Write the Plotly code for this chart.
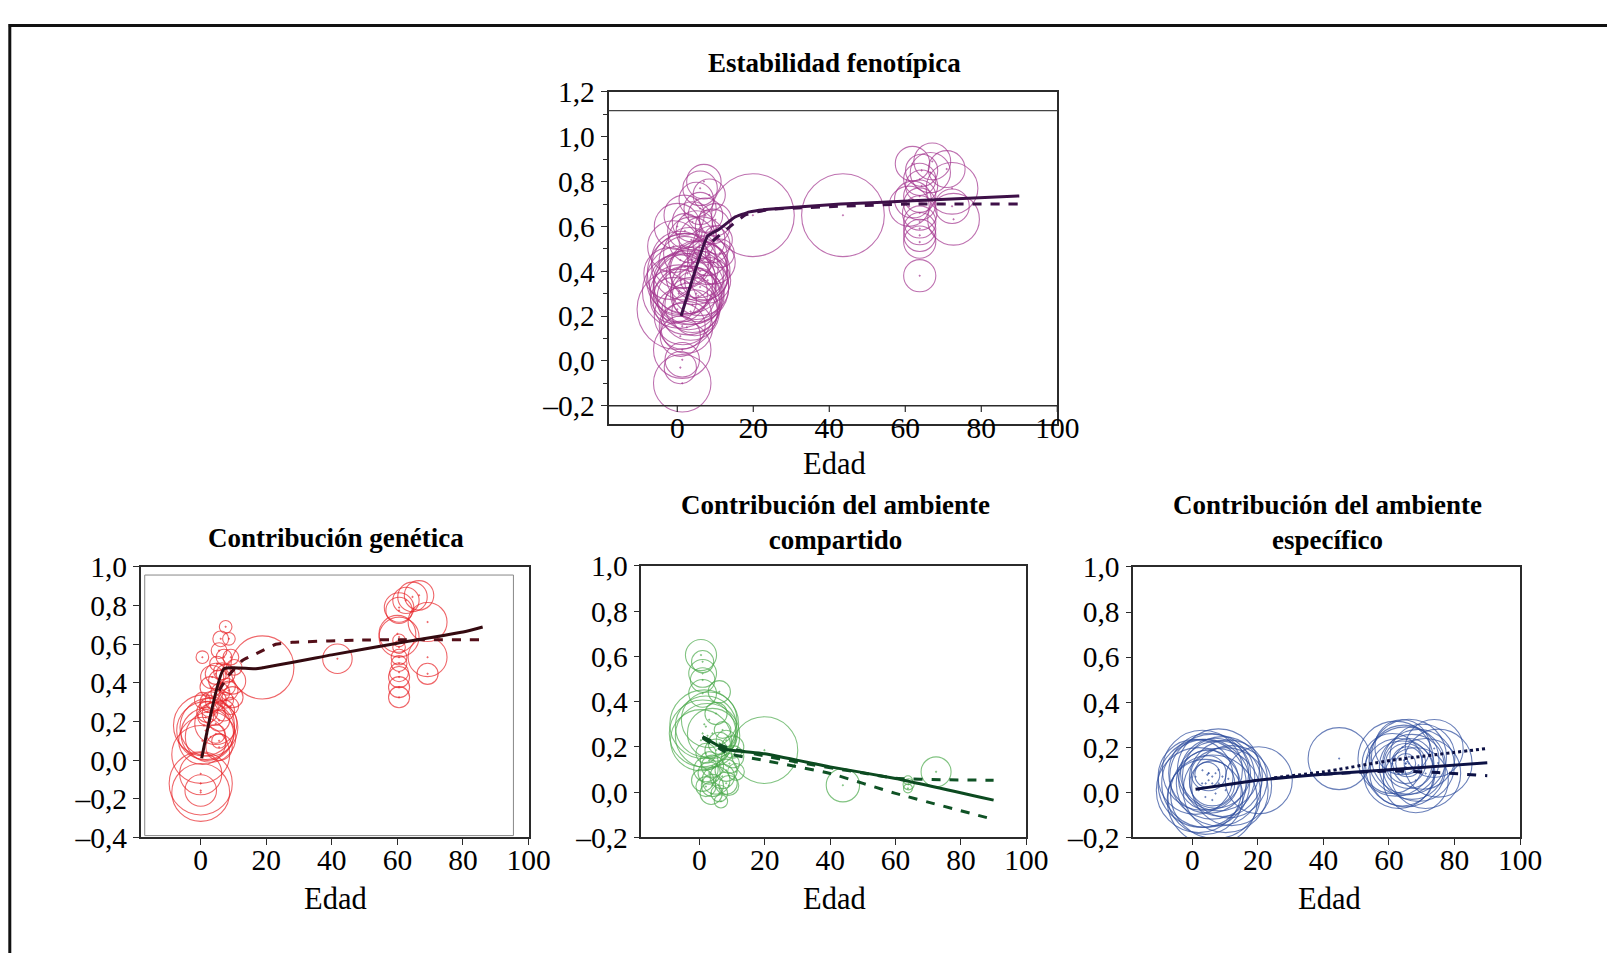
import plotly.graph_objects as go

# ---------------- DATA ----------------
# Panel 1: Estabilidad fenotípica (edad, valor, peso del estudio)
est_edad = [1.3, 1.3, 0, 0.8, 1.3, 2.7, 3.7, 2.7, 5.5, -1, 0, 1.8, 6, 7, 8.4, 5, 7.4, 9.3, 10.7, 11.2,
            6.5, 7.9, 5.5, 4.6, 1.3, 0.8, 3.7, -2, 2, 4.6, 0.8, 3.2, 0.4, -1, 4, 2, 6, 9, 8, 10, 5, 3, 1,
            2, 6, 8, 1.5, 2.5, 3, 1, 4, 6, 2, 5, 7, 0.5, 3.5, 9.5,
            19.9, 43.6,
            63.8, 63.8, 63.8, 63.8, 63.8, 63.8, 63.8, 64.3, 63.8, 64.3, 61.9, 66.6, 67.1, 70.9, 61, 72.7,
            72.3, 72.3, 63.8, 62]
est_valor = [-0.10, 0.05, 0.23, 0.11, 0.155, 0.39, 0.33, 0.27, 0.41, 0.51, 0.60, 0.65, 0.77, 0.80, 0.74,
             0.72, 0.65, 0.60, 0.54, 0.48, 0.54, 0.47, 0.29, 0.215, 0.005, -0.03, 0.54, 0.39, 0.35, 0.38,
             0.45, 0.48, 0.30, 0.27, 0.62, 0.58, 0.68, 0.52, 0.43, 0.63, 0.58, 0.28, 0.36, 0.44, 0.33,
             0.36, 0.20, 0.15, 0.32, 0.34, 0.25, 0.40, 0.42, 0.30, 0.38, 0.31, 0.22, 0.44,
             0.65, 0.65,
             0.38, 0.53, 0.56, 0.59, 0.62, 0.70, 0.735, 0.78, 0.81, 0.85, 0.88, 0.84, 0.89, 0.856, 0.69,
             0.632, 0.69, 0.77, 0.66, 0.72]
est_peso = [50, 50, 70, 35, 40, 70, 65, 60, 50, 45, 40, 35, 30, 30, 28, 30, 30, 30, 25, 25, 40, 35, 45,
            40, 30, 28, 40, 45, 55, 50, 50, 45, 50, 40, 35, 30, 28, 32, 35, 28, 35, 55, 60, 45, 50, 40,
            50, 45, 62, 55, 48, 52, 58, 45, 42, 64, 50, 38,
            72, 72,
            28, 28, 28, 28, 28, 28, 28, 28, 28, 28, 30, 35, 32, 32, 35, 45, 30, 45, 30, 32]
est_linea_edad = [1, 8, 11, 15, 19, 24, 43, 62, 90]
est_linea_solida = [0.20, 0.557, 0.587, 0.64, 0.665, 0.677, 0.70, 0.714, 0.736]
est_disc_edad = [9.3, 13, 17.8, 24, 43, 62, 90]
est_linea_disc = [0.535, 0.587, 0.65, 0.675, 0.69, 0.70, 0.70]

# Panel 2: Contribución genética
gen_edad = [0, 0, 0, 0, 0, 1.5, 2.5, 2, 0.5, 4.6, 5.6,
            0.5, 7.6, 6.1, 8.6, 5.6, 7.1, 9.2, 10.2, 4.6, 3, 5.6, 7.6, 9.7, 9.7, 4.6, 2.5, 7.1, 5.6, 1.5,
            0.5, 4.6, 5.6, 7.6, 3, 6, 8, 2, 4, 6.5, 8.5, 5, 3.5, 9, 1, 3,
            18.8, 41.7,
            60.5, 60.5, 60.5, 60.5, 60.5, 60.5, 60.5, 60.5, 60.5, 60, 60.5, 60.5, 62.6, 64.6, 66.6, 69.2,
            69.2, 69.2]
gen_valor = [-0.167, -0.157, -0.12, -0.07, 0.03, 0.153, 0.17, 0.135, 0.10, 0.19, 0.067,
             0.533, 0.69, 0.628, 0.628, 0.567, 0.533, 0.533, 0.48, 0.447, 0.378, 0.412, 0.447, 0.41,
             0.326, 0.31, 0.274, 0.257, 0.205, 0.222, 0.31, 0.136, 0.10, 0.31, 0.30, 0.35, 0.38, 0.25,
             0.24, 0.46, 0.36, 0.50, 0.43, 0.28, 0.18, 0.12,
             0.48, 0.525,
             0.326, 0.378, 0.43, 0.455, 0.50, 0.533, 0.585, 0.62, 0.637, 0.654, 0.79, 0.775, 0.827,
             0.845, 0.853, 0.715, 0.533, 0.447]
gen_peso = [55, 30, 60, 40, 55, 55, 55, 50, 45, 40, 25,
            12, 12, 15, 12, 15, 15, 15, 15, 20, 20, 20, 18, 25, 20, 20, 18, 20, 20, 15, 15, 18, 14, 15,
            20, 18, 16, 20, 22, 16, 18, 14, 22, 16, 58, 48,
            60, 28,
            20, 20, 20, 18, 15, 15, 12, 12, 38, 35, 28, 25, 25, 28, 28, 37, 37, 20]
gen_linea_edad = [0.3, 7.1, 16.8, 40, 60, 80, 86]
gen_linea_solida = [0.01, 0.473, 0.473, 0.545, 0.605, 0.663, 0.689]
gen_disc_edad = [5.6, 8.1, 12.7, 16.8, 22.9, 28, 50, 86]
gen_linea_disc = [0.36, 0.43, 0.516, 0.55, 0.60, 0.61, 0.622, 0.623]

# Panel 3: Contribución del ambiente compartido
com_edad = [0.5, 1, 1, 1, 1, 6.1, 5.1, 1, 2, 3, 0.5, 4, 1, 2, 3, 4, 5.1, 6.1, 6.6, 8.2, 9.2, 10.2,
            11.2, 8.2, 3.6, 5.1, 6.1, 8.2, 10.2, 2, 7.1, 2, 4, 7, 9, 3, 1.5, 2.5,
            19.9, 43.9, 63.8, 63.8, 64, 72.4]
com_valor = [0.606, 0.577, 0.525, 0.496, 0.437, 0.444, 0.348, 0.26, 0.29, 0.32, 0.23, 0.26, 0.053,
             0.025, 0.085, 0.115, 0.053, -0.005, -0.04, 0.097, 0.127, 0.157, 0.09, 0.04, -0.005, 0.186,
             0.216, 0.23, 0.20, 0.172, 0.275, 0.10, 0.03, 0.07, 0.03, 0.14, 0.30, 0.25,
             0.186, 0.031, 0.053, 0.017, 0.035, 0.09]
com_peso = [28, 20, 25, 22, 25, 20, 20, 60, 55, 50, 55, 45, 20, 18, 20, 20, 25, 15, 12, 20, 18, 20,
            15, 20, 20, 20, 20, 18, 20, 18, 15, 22, 20, 22, 18, 16, 62, 58,
            60, 30, 8, 8, 10, 27]
com_linea_edad = [1, 8, 20, 40, 60, 90]
com_linea_solida = [0.245, 0.19, 0.17, 0.112, 0.061, -0.035]
com_discA_edad = [1, 8, 20, 35, 50, 60, 75, 90]
com_linea_discA = [0.245, 0.20, 0.16, 0.12, 0.085, 0.062, 0.055, 0.053]
com_discB_edad = [1, 9, 20, 40, 60, 90]
com_linea_discB = [0.24, 0.17, 0.14, 0.083, -0.005, -0.12]

# Panel 4: Contribución del ambiente específico
esp_edad = [2, 4.1, 6.1, 5, 7.1, 8.1, 3.1, 6.1, 9.2, 4, 10.2, 1, 5, 6.1, 5, 4.6, 7.1, 12, 3, 8, 11,
            20.3, 44.8,
            64.6, 65.1, 66.1, 63, 67, 73.8, 64.1, 66.1, 65.1, 65.6, 65.1, 68.2, 71.2, 61, 70.2, 64.1,
            62, 69, 75]
esp_valor = [0.01, 0.04, 0.07, 0.085, -0.005, 0.04, 0.098, -0.034, 0.07, -0.02, 0.01, 0.069, 0.054,
             0.04, 0.085, 0.078, 0.085, 0.03, 0.04, 0.10, 0.06,
             0.054, 0.15,
             0.143, 0.113, 0.158, 0.084, 0.113, 0.195, 0.084, 0.128, 0.128, 0.136, 0.128, 0.054, 0.084,
             0.128, 0.158, 0.20, 0.15, 0.12, 0.13]
esp_peso = [85, 88, 85, 80, 90, 85, 80, 90, 80, 75, 85, 75, 60, 45, 35, 25, 70, 80, 88, 82, 78,
            67, 62,
            70, 80, 75, 70, 65, 58, 65, 50, 40, 30, 20, 65, 70, 60, 65, 55, 75, 72, 68]
esp_linea_edad = [1, 20, 40, 60, 90]
esp_linea_solida = [0.014, 0.054, 0.081, 0.10, 0.131]
esp_punt_edad = [25, 40, 61, 90]
esp_linea_punt = [0.065, 0.091, 0.143, 0.195]
esp_disc_edad = [40, 60, 75, 90]
esp_linea_disc = [0.08, 0.095, 0.088, 0.074]

titulos = ["Estabilidad fenotípica", "Contribución genética",
           "Contribución del ambiente<br>compartido", "Contribución del ambiente<br>específico"]
x_ticks = [0, 20, 40, 60, 80, 100]

# ---------------- FIGURE ----------------
FW, FH = 1632, 970
# mapping from target-picture pixels to figure pixels (page offset and scale of the capture)
SX, SY = 0.987, 0.965
OX, OY = 8.2, 25.2
FONT = "Liberation Serif"

def px_x(p):
    return ((p - OX) / SX) / FW

def px_y(p):
    return 1 - ((p - OY) / SY) / FH

def fmt(v):
    s = f"{abs(v):.1f}".replace(".", ",")
    return ("–" + s) if v < -1e-9 else s

fig = go.Figure()

panels = [
    # (suffix, x domain px, y domain px, xrange, yrange, yticks)
    ("", (609, 1058), (93, 424), [-18.1, 100], [-0.28, 1.2], [-0.2, 0, 0.2, 0.4, 0.6, 0.8, 1.0, 1.2]),
    ("2", (141, 529), (567, 837), [-18.3, 100], [-0.4, 1.0], [-0.4, -0.2, 0, 0.2, 0.4, 0.6, 0.8, 1.0]),
    ("3", (642, 1027), (566, 837), [-17.7, 100], [-0.2, 1.0], [-0.2, 0, 0.2, 0.4, 0.6, 0.8, 1.0]),
    ("4", (1134, 1521), (567, 837), [-18.0, 100], [-0.2, 1.0], [-0.2, 0, 0.2, 0.4, 0.6, 0.8, 1.0]),
]

TICKFONT = dict(family=FONT, size=29.5, color="black")
layout_axes = {}
for suf, (x0, x1), (y0, y1), xr, yr, yt in panels:
    layout_axes["xaxis" + suf] = dict(
        domain=[px_x(x0), px_x(x1)], range=xr, anchor="y" + suf,
        tickvals=x_ticks, ticktext=[str(t) for t in x_ticks],
        showline=True, mirror=True, linecolor="#2b2b2b", linewidth=1.5,
        ticks="outside" if suf else "", ticklen=6, tickcolor="#2b2b2b",
        showgrid=False, zeroline=False,
        tickfont=TICKFONT,
        ticklabelstandoff=(-23 if not suf else -11),
    )
    layout_axes["yaxis" + suf] = dict(
        domain=[px_y(y1), px_y(y0)], range=yr, anchor="x" + suf,
        tickvals=yt, ticktext=[fmt(v) for v in yt],
        showline=True, mirror=True, linecolor="#2b2b2b", linewidth=1.5,
        ticks="outside", ticklen=6, tickcolor="#2b2b2b",
        minor=dict(ticks="outside", dtick=0.1, ticklen=4, tickcolor="#2b2b2b") if not suf else None,
        showgrid=False, zeroline=False,
        tickfont=TICKFONT,
    )

def bubbles(x, y, s, color, suf, ref):
    fig.add_trace(go.Scatter(
        x=x, y=y, mode="markers", xaxis="x" + suf, yaxis="y" + suf,
        marker=dict(symbol="circle-open-dot", size=s, sizemode="diameter", sizeref=ref,
                    color=color, line=dict(width=1.1, color=color)),
        showlegend=False, hoverinfo="x+y"))

def linea(x, y, color, dash, suf, width=3):
    fig.add_trace(go.Scatter(
        x=x, y=y, mode="lines", xaxis="x" + suf, yaxis="y" + suf,
        line=dict(color=color, width=width, dash=dash, shape="spline", smoothing=0.4),
        showlegend=False, hoverinfo="skip"))

bubbles(est_edad, est_valor, est_peso, "#a2348f", "", 0.87)
linea(est_disc_edad, est_linea_disc, "#3e1048", "dash", "")
linea(est_linea_edad, est_linea_solida, "#3e1048", "solid", "")

bubbles(gen_edad, gen_valor, gen_peso, "#e8272b", "2", 0.95)
linea(gen_disc_edad, gen_linea_disc, "#540f19", "dash", "2")
linea(gen_linea_edad, gen_linea_solida, "#340a10", "solid", "2")

bubbles(com_edad, com_valor, com_peso, "#4caa4c", "3", 0.9)
linea(com_discA_edad, com_linea_discA, "#0f5225", "dash", "3")
linea(com_discB_edad, com_linea_discB, "#0f5225", "dash", "3")
linea(com_linea_edad, com_linea_solida, "#0c4a20", "solid", "3")

bubbles(esp_edad, esp_valor, esp_peso, "#2c4c9c", "4", 1.0)
linea(esp_punt_edad, esp_linea_punt, "#0c1145", "dot", "4")
linea(esp_disc_edad, esp_linea_disc, "#0c1145", "dash", "4")
linea(esp_linea_edad, esp_linea_solida, "#0c1145", "solid", "4")

shapes = [
    # outer frame (top and left)
    dict(type="line", xref="paper", yref="paper", x0=px_x(9), x1=1, y0=1 - 1.6 / FH, y1=1 - 1.6 / FH,
         line=dict(color="#111", width=3)),
    dict(type="line", xref="paper", yref="paper", x0=px_x(10), x1=px_x(10), y0=0, y1=1,
         line=dict(color="#111", width=3)),
    # extra lines of top panel
    dict(type="line", xref="x domain", yref="y", x0=0, x1=1, y0=1.117, y1=1.117,
         line=dict(color="#444", width=1.2)),
    dict(type="line", xref="x domain", yref="y", x0=0, x1=1, y0=-0.2, y1=-0.2,
         line=dict(color="#2b2b2b", width=1.5)),
    # inner plot-area rectangle of genetic panel
    dict(type="rect", xref="x2 domain", yref="y2 domain", x0=0.0103, x1=0.961, y0=0.007, y1=0.97,
         line=dict(color="#888", width=1)),
]
for t in x_ticks:
    shapes.append(dict(type="line", xref="x", yref="y", x0=t, x1=t, y0=-0.2, y1=-0.228,
                       line=dict(color="#2b2b2b", width=1.2)))

annotations = []
for txt, cx, cy in [(titulos[0], 835, 64), (titulos[1], 336, 538),
                    (titulos[2], 836, 523), (titulos[3], 1328, 523)]:
    annotations.append(dict(text="<b>" + txt + "</b>", x=px_x(cx), y=px_y(cy), xref="paper", yref="paper",
                            showarrow=False, font=dict(family=FONT, size=27, color="black"),
                            xanchor="center", yanchor="middle"))
for cx, cy in [(835, 464), (336, 898), (835, 898), (1330, 898)]:
    annotations.append(dict(text="Edad", x=px_x(cx), y=px_y(cy), xref="paper", yref="paper",
                            showarrow=False, font=dict(family=FONT, size=30.5, color="black"),
                            xanchor="center", yanchor="middle"))

fig.update_layout(
    width=FW, height=FH, margin=dict(l=0, r=0, t=0, b=0),
    paper_bgcolor="white", plot_bgcolor="white",
    shapes=shapes, annotations=annotations,
    **layout_axes,
)

fig.write_html("out.html")
